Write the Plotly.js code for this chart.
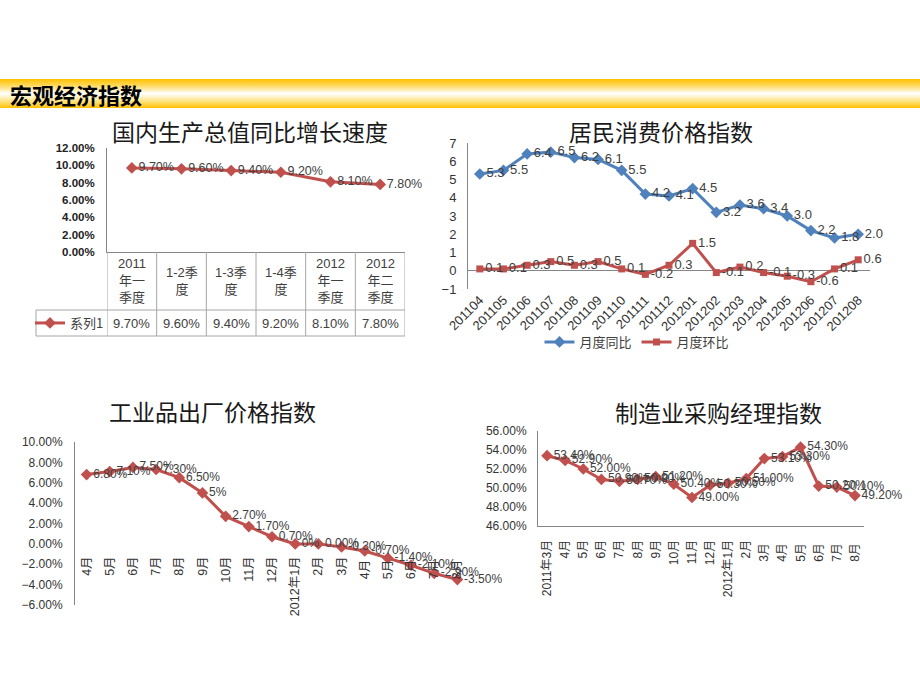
<!DOCTYPE html>
<html>
<head>
<meta charset="utf-8">
<script src="https://cdn.plot.ly/plotly-3.0.1.min.js"></script>
<style>
  html, body { margin: 0; padding: 0; background: #ffffff; }
  #band { position: absolute; left: 0; top: 79px; width: 920px; height: 29px;
          background: linear-gradient(to bottom, #FFC000 0%, #FFD95A 22%, #FFFFFF 50%, #FFE27A 78%, #FFC000 100%); }
  #chart { position: absolute; left: 0; top: 0; width: 920px; height: 690px; }
</style>
</head>
<body>
<div id="band"></div>
<div id="chart"></div>
<script>
// ---------------- data ----------------
const gdpCats = ['2011<br>年一<br>季度', '1-2季<br>度', '1-3季<br>度', '1-4季<br>度', '2012<br>年一<br>季度', '2012<br>年二<br>季度'];
const gdpVals = [9.7, 9.6, 9.4, 9.2, 8.1, 7.8];
const gdpSeriesName = '系列1';

const cpiMonths = ['201104','201105','201106','201107','201108','201109','201110','201111','201112',
                   '201201','201202','201203','201204','201205','201206','201207','201208'];
const cpiYoY = [5.3, 5.5, 6.4, 6.5, 6.2, 6.1, 5.5, 4.2, 4.1, 4.5, 3.2, 3.6, 3.4, 3.0, 2.2, 1.8, 2.0];
const cpiMoM = [0.1, 0.1, 0.3, 0.5, 0.3, 0.5, 0.1, -0.2, 0.3, 1.5, -0.1, 0.2, -0.1, -0.3, -0.6, 0.1, 0.6];
const cpiNames = ['月度同比', '月度环比'];

const ppiMonths = ['4月','5月','6月','7月','8月','9月','10月','11月','12月','2012年1月','2月','3月','4月 ','5月 ','6月 ','7月 ','8月 '];
const ppiVals = [6.8, 7.1, 7.5, 7.3, 6.5, 5.0, 2.7, 1.7, 0.7, 0.0, 0.0, -0.3, -0.7, -1.4, -2.1, -2.9, -3.5];
const ppiLabels = ['6.80%','7.10%','7.50%','7.30%','6.50%','5%','2.70%','1.70%','0.70%','0%','0.00%','-0.30%','-0.70%','-1.40%','-2.10%','-2.90%','-3.50%'];

const pmiMonths = ['2011年3月','4月','5月','6月','7月','8月','9月','10月','11月','12月','2012年1月','2月','3月 ','4月 ','5月 ','6月 ','7月 ','8月 '];
const pmiVals = [53.4, 52.9, 52.0, 50.9, 50.7, 50.9, 51.2, 50.4, 49.0, 50.3, 50.5, 51.0, 53.1, 53.3, 54.3, 50.2, 50.1, 49.2];

const titles = ['国内生产总值同比增长速度', '居民消费价格指数', '工业品出厂价格指数', '制造业采购经理指数'];
const headerText = '宏观经济指数';

// ---------------- helpers ----------------
const W = 920, H = 690;
const px = x => x / W;
const py = y => 1 - y / H;
const RED = '#C0504D', BLUE = '#4F81BD', AXIS = '#868686', LBL = '#404040';
const FONT = 'Liberation Sans, Arial, Noto Sans CJK SC, sans-serif';
const CJK = 'Noto Sans CJK SC, sans-serif';

const gdpX = gdpVals.map((_, i) => i);
const cpiX = cpiMonths;
const ppiX = ppiMonths;
const pmiX = pmiMonths;

// domains
const d1x = [px(107), px(405)], d1y = [py(252), py(148)];
const d2x = [px(468), px(870)], d2y = [py(289), py(143)];
const d3x = [px(75), px(469)],  d3y = [py(605), py(442)];
const d4x = [px(538), px(864)], d4y = [py(526), py(431)];
const ppiRange = [-6, 10];
const ppiZeroPos = d3y[0] + (0 - ppiRange[0]) / (ppiRange[1] - ppiRange[0]) * (d3y[1] - d3y[0]);

const lineStyle = (c) => ({ color: c, width: 3 });
const lblFont = (s) => ({ family: FONT, size: s, color: LBL });

const traces = [
  { x: gdpX, y: gdpVals, type: 'scatter', mode: 'lines+markers+text', name: gdpSeriesName,
    xaxis: 'x', yaxis: 'y', line: lineStyle(RED), marker: { symbol: 'diamond', size: 9, color: RED },
    text: gdpVals.map(v => v.toFixed(2) + '%'), textposition: 'middle right', textfont: lblFont(12.5),
    legend: 'legend', showlegend: true, cliponaxis: false },
  { x: cpiX, y: cpiYoY, type: 'scatter', mode: 'lines+markers+text', name: cpiNames[0],
    xaxis: 'x2', yaxis: 'y2', line: lineStyle(BLUE), marker: { symbol: 'diamond', size: 9, color: BLUE },
    text: cpiYoY.map(v => v.toFixed(1)), textposition: 'middle right', textfont: lblFont(13),
    legend: 'legend2', showlegend: true, cliponaxis: false },
  { x: cpiX, y: cpiMoM, type: 'scatter', mode: 'lines+markers+text', name: cpiNames[1],
    xaxis: 'x2', yaxis: 'y2', line: lineStyle(RED), marker: { symbol: 'square', size: 7, color: RED },
    text: cpiMoM.map(v => v.toFixed(1)), textposition: 'middle right', textfont: lblFont(13),
    legend: 'legend2', showlegend: true, cliponaxis: false },
  { x: ppiX, y: ppiVals, type: 'scatter', mode: 'lines+markers+text', name: titles[2],
    xaxis: 'x3', yaxis: 'y3', line: lineStyle(RED), marker: { symbol: 'diamond', size: 9, color: RED },
    text: ppiLabels, textposition: 'middle right', textfont: lblFont(12),
    showlegend: false, cliponaxis: false },
  { x: pmiX, y: pmiVals, type: 'scatter', mode: 'lines+markers+text', name: titles[3],
    xaxis: 'x4', yaxis: 'y4', line: lineStyle(RED), marker: { symbol: 'diamond', size: 9, color: RED },
    text: pmiVals.map(v => v.toFixed(2) + '%'), textposition: 'middle right', textfont: lblFont(12),
    showlegend: false, cliponaxis: false }
];

// ---------------- annotations ----------------
const ann = [];
const titleFont = { family: CJK, size: 23, color: '#1a1a1a' };
ann.push({ text: headerText, xref: 'paper', yref: 'paper', x: px(8), y: py(94), xanchor: 'left', yanchor: 'middle',
           showarrow: false, font: { family: CJK, size: 22, color: '#000', weight: 'bold' } });
ann.push({ text: titles[0], xref: 'paper', yref: 'paper', x: px(250), y: py(131), xanchor: 'center', yanchor: 'middle', showarrow: false, font: titleFont });
ann.push({ text: titles[1], xref: 'paper', yref: 'paper', x: px(661), y: py(131), xanchor: 'center', yanchor: 'middle', showarrow: false, font: titleFont });
ann.push({ text: titles[2], xref: 'paper', yref: 'paper', x: px(212), y: py(411), xanchor: 'center', yanchor: 'middle', showarrow: false, font: titleFont });
ann.push({ text: titles[3], xref: 'paper', yref: 'paper', x: px(718), y: py(412), xanchor: 'center', yanchor: 'middle', showarrow: false, font: titleFont });

// GDP data table
gdpCats.forEach((c, i) => {
  ann.push({ text: c, xref: 'x', yref: 'paper', x: i, y: py(281), xanchor: 'center', yanchor: 'middle',
             showarrow: false, align: 'center', font: lblFont(13) });
  ann.push({ text: gdpVals[i].toFixed(2) + '%', xref: 'x', yref: 'paper', x: i, y: py(323), xanchor: 'center', yanchor: 'middle',
             showarrow: false, font: lblFont(13) });
});

// ---------------- table grid shapes ----------------
const shapes = [];
const gridLine = { color: '#A6A6A6', width: 1 };
for (let i = 0; i <= gdpVals.length; i++) {
  shapes.push({ type: 'line', xref: 'x', yref: 'paper', x0: i - 0.5, x1: i - 0.5, y0: py(336), y1: py(252), line: gridLine });
}
shapes.push({ type: 'line', xref: 'paper', yref: 'paper', x0: px(36), x1: d1x[1], y0: py(310), y1: py(310), line: gridLine });
shapes.push({ type: 'line', xref: 'paper', yref: 'paper', x0: px(36), x1: d1x[1], y0: py(336), y1: py(336), line: gridLine });
shapes.push({ type: 'line', xref: 'paper', yref: 'paper', x0: px(36), x1: px(36), y0: py(336), y1: py(310), line: gridLine });

const tickFont = (s) => ({ family: FONT, size: s, color: '#333' });
const baseAxis = { showgrid: false, zeroline: false, fixedrange: true };

const layout = {
  width: W, height: H,
  margin: { l: 0, r: 0, t: 0, b: 0 },
  paper_bgcolor: 'rgba(0,0,0,0)', plot_bgcolor: 'rgba(0,0,0,0)',
  font: { family: FONT, color: '#333' },
  // GDP
  xaxis: Object.assign({}, baseAxis, { domain: d1x, anchor: 'y', range: [-0.5, gdpVals.length - 0.5], showticklabels: false,
           showline: true, linecolor: AXIS, linewidth: 1, ticks: '' }),
  yaxis: Object.assign({}, baseAxis, { domain: d1y, anchor: 'x', range: [0, 12], dtick: 2, tickformat: '.2f', ticksuffix: '%',
           showline: true, linecolor: AXIS, ticks: '', ticklabelstandoff: 9,
           tickfont: { family: FONT, size: 11.5, color: '#222', weight: 'bold' } }),
  // CPI
  xaxis2: Object.assign({}, baseAxis, { domain: d2x, anchor: 'y2', type: 'category', range: [-0.5, cpiMonths.length - 0.5],
           showline: false, ticks: '', tickangle: -45, tickfont: tickFont(13) }),
  yaxis2: Object.assign({}, baseAxis, { domain: d2y, anchor: 'x2', range: [-1, 7], dtick: 1, zeroline: true, zerolinecolor: AXIS,
           zerolinewidth: 1, showline: true, linecolor: AXIS, ticks: '', ticklabelstandoff: 8, tickfont: tickFont(13) }),
  // PPI
  xaxis3: Object.assign({}, baseAxis, { domain: d3x, anchor: 'free', position: ppiZeroPos, type: 'category',
           range: [-0.5, ppiMonths.length - 0.5], showline: false, ticks: '', tickangle: -90, ticklabelstandoff: 9,
           tickfont: tickFont(12.5) }),
  yaxis3: Object.assign({}, baseAxis, { domain: d3y, anchor: 'x3', range: ppiRange, dtick: 2, tickformat: '.2f', ticksuffix: '%',
           showline: true, linecolor: AXIS, ticks: '', ticklabelstandoff: 9, tickfont: tickFont(12) }),
  // PMI
  xaxis4: Object.assign({}, baseAxis, { domain: d4x, anchor: 'y4', type: 'category', range: [-0.5, pmiMonths.length - 0.5],
           showline: true, linecolor: AXIS, ticks: '', tickangle: -90, ticklabelstandoff: 8, tickfont: tickFont(12) }),
  yaxis4: Object.assign({}, baseAxis, { domain: d4y, anchor: 'x4', range: [46, 56], dtick: 2, tickformat: '.2f', ticksuffix: '%',
           showline: true, linecolor: AXIS, ticks: '', ticklabelstandoff: 8, tickfont: tickFont(12) }),
  legend: { x: px(30), y: py(323), xanchor: 'left', yanchor: 'middle', bgcolor: 'rgba(0,0,0,0)',
            font: { family: CJK, size: 13, color: LBL }, itemwidth: 30 },
  legend2: { x: px(637), y: py(342), xanchor: 'center', yanchor: 'middle', orientation: 'h', bgcolor: 'rgba(0,0,0,0)',
             font: { family: CJK, size: 13, color: LBL } },
  annotations: ann,
  shapes: shapes
};

Plotly.newPlot('chart', traces, layout, { displayModeBar: false, staticPlot: true });
</script>
</body>
</html>
